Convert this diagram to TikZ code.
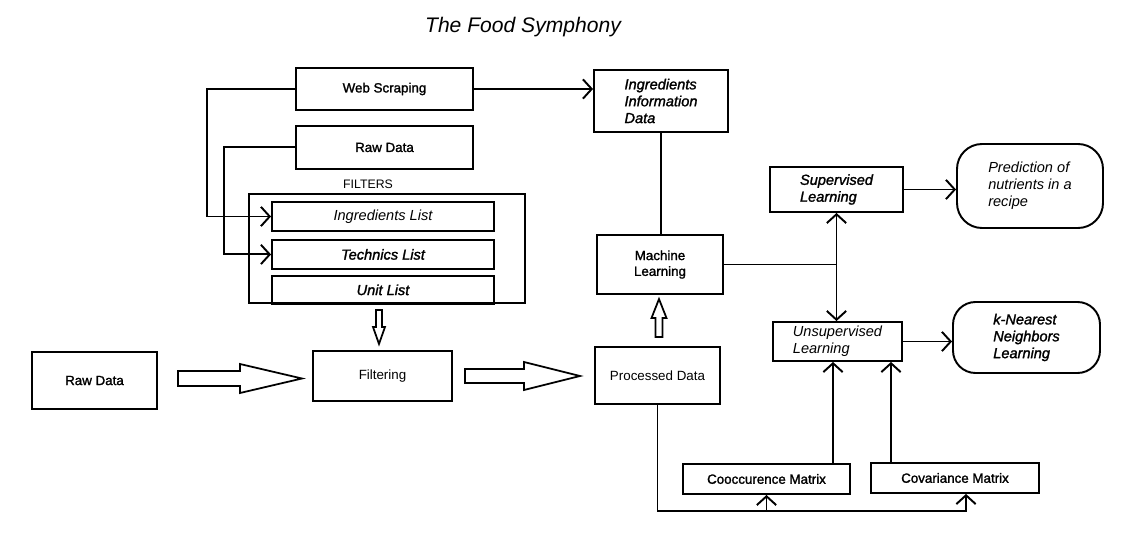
\documentclass[tikz,border=0pt]{standalone}
\usepackage{fontspec}
\setmainfont{Liberation Sans}
\newfontfamily\medfont[FakeBold=1.5]{Liberation Sans}
\usetikzlibrary{arrows.meta,positioning}

\begin{document}
\begin{tikzpicture}[
    box/.style={rectangle, draw, line width=1.1pt, align=center, inner sep=2pt, font=\medfont\fontsize{7.6}{9}\selectfont},
    plainbox/.style={box, font=\fontsize{7.6}{9}\selectfont},
    itbox/.style={box, align=left, font=\itshape\fontsize{8.3}{9.6}\selectfont},
    bfitbox/.style={box, align=left, font=\medfont\itshape\fontsize{8.3}{9.6}\selectfont},
    line/.style={line width=1.1pt},
    arrow/.style={line, -{Straight Barb[length=5pt,width=11pt]}},
    both/.style={line, {Straight Barb[length=5pt,width=11pt]}-{Straight Barb[length=5pt,width=11pt]}},
    fat/.style={draw, line width=1pt, fill=white, line join=miter}
]
\fill[white] (0,0) rectangle (22.92,10.96);
\useasboundingbox (0,0) rectangle (22.92,10.96);

% Title
\node[font=\itshape\fontsize{12}{14}\selectfont] (title) at (10.46,10.42) {The Food Symphony};

% Sources
\node[box, minimum width=3.54cm, minimum height=0.84cm] (web) at (7.69,9.18) {Web Scraping};
\node[box, minimum width=3.54cm, minimum height=0.86cm, below=0.28cm of web] (rawtop) {Raw Data};

% Filters
\node[draw, line width=1.1pt, minimum width=5.52cm, minimum height=2.18cm] (filters) at (7.74,5.99) {};
\node[font=\fontsize{7}{8}\selectfont] (filterslabel) at (7.36,7.28) {FILTERS};
\node[itbox, minimum width=4.44cm, minimum height=0.58cm] (ingr) at (7.66,6.63) {Ingredients List};
\node[bfitbox, minimum width=4.44cm, minimum height=0.58cm, below=0.14cm of ingr] (tech) {Technics List};
\node[bfitbox, minimum width=4.44cm, minimum height=0.56cm, below=0.1cm of tech] (unit) {Unit List};

% Main pipeline
\node[box, minimum width=2.5cm, minimum height=1.14cm] (rawbot) at (1.89,3.35) {Raw Data};
\node[plainbox, minimum width=2.78cm, minimum height=1cm] (filtering) at (7.65,3.44) {Filtering};
\node[plainbox, minimum width=2.5cm, minimum height=1.14cm] (processed) at (13.15,3.45) {Processed Data};

% Learning
\node[bfitbox, minimum width=2.68cm, minimum height=1.24cm] (info) at (13.22,8.94) {Ingredients\\Information\\Data};
\node[box, minimum width=2.52cm, minimum height=1.18cm] (ml) at (13.2,5.67) {Machine\\Learning};
\node[bfitbox, minimum width=2.66cm, minimum height=0.9cm] (sup) at (16.73,7.17) {Supervised\\Learning};
\node[itbox, minimum width=2.58cm, minimum height=0.78cm] (unsup) at (16.75,4.13) {Unsupervised\\Learning};
\node[itbox, rounded corners=0.5cm, minimum width=2.92cm, minimum height=1.68cm] (pred) at (20.6,7.24) {Prediction of\\nutrients in a\\recipe};
\node[bfitbox, rounded corners=0.45cm, minimum width=2.94cm, minimum height=1.42cm] (knn) at (20.53,4.21) {k-Nearest\\Neighbors\\Learning};

% Matrices
\node[box, minimum width=3.34cm, minimum height=0.6cm] (cooc) at (15.33,1.38) {Cooccurence Matrix};
\node[box, minimum width=3.36cm, minimum height=0.6cm] (cov) at (19.1,1.40) {Covariance Matrix};

% Sources to filters
\draw[arrow] (web.west) -- ++(-1.76,0) |- (ingr.west);
\draw[arrow] (rawtop.west) -- ++(-1.42,0) |- (tech.west);
\draw[arrow] (web.east) -- (web.east -| info.west);

% Machine learning branch
\draw[line] (info.south) -- (info.south |- ml.north);
\draw[line] (ml.east) -- (ml.east -| sup.south);
\draw[both] (sup.south) -- (sup.south |- unsup.north);
\draw[arrow] (sup.east) -- (sup.east -| pred.west);
\draw[arrow] (unsup.east) -- (unsup.east -| knn.west);

% Matrices to unsupervised
\draw[arrow] ([xshift=1.33cm]cooc.north) -- ([xshift=1.33cm]cooc.north |- unsup.south);
\draw[arrow] ([xshift=-1.28cm]cov.north) -- ([xshift=-1.28cm]cov.north |- unsup.south);
\coordinate (bus) at ([yshift=-2.12cm]processed.south);
\draw[arrow] (processed.south) -- (bus) -| ([xshift=0.22cm]cov.south);
\draw[arrow] (bus -| cooc.south) -- (cooc.south);

% Block arrows
\draw[fat] ([xshift=0.4cm,yshift=0.19cm]rawbot.east) -- ++(1.24,0) -- ++(0,0.14) -- ++(1.24,-0.29) -- ++(-1.24,-0.29) -- ++(0,0.14) -- ++(-1.24,0) -- cycle;
\draw[fat] ([xshift=0.24cm,yshift=0.14cm]filtering.east) -- ++(1.18,0) -- ++(0,0.14) -- ++(1.12,-0.28) -- ++(-1.12,-0.28) -- ++(0,0.14) -- ++(-1.18,0) -- cycle;
\draw[fat] ([xshift=-0.22cm,yshift=-0.12cm]filters.south) -- ++(0,-0.34) -- ++(-0.06,0) -- ++(0.12,-0.34) -- ++(0.12,0.34) -- ++(-0.06,0) -- ++(0,0.34) -- cycle;
\draw[fat] ([xshift=-0.04cm,yshift=0.18cm]processed.north) -- ++(0,0.38) -- ++(-0.08,0) -- ++(0.15,0.38) -- ++(0.15,-0.38) -- ++(-0.08,0) -- ++(0,-0.38) -- cycle;

\end{tikzpicture}
\end{document}
